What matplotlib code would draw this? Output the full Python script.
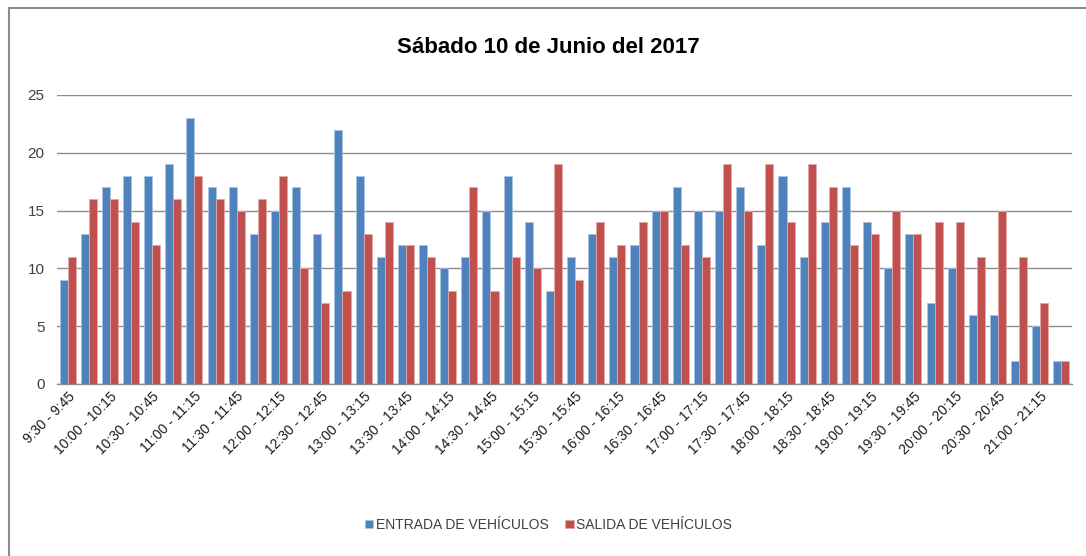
import matplotlib
matplotlib.use("Agg")
from matplotlib import pyplot as plt
from matplotlib.patches import Rectangle
import numpy as np

plt.rcParams['font.family'] = ['Liberation Sans', 'DejaVu Sans']

# 15-minute intervals from 9:30 to 21:30
starts = ['9:30', '9:45', '10:00', '10:15', '10:30', '10:45', '11:00', '11:15',
          '11:30', '11:45', '12:00', '12:15', '12:30', '12:45', '13:00', '13:15',
          '13:30', '13:45', '14:00', '14:15', '14:30', '14:45', '15:00', '15:15',
          '15:30', '15:45', '16:00', '16:15', '16:30', '16:45', '17:00', '17:15',
          '17:30', '17:45', '18:00', '18:15', '18:30', '18:45', '19:00', '19:15',
          '19:30', '19:45', '20:00', '20:15', '20:30', '20:45', '21:00', '21:15',
          '21:30']
categories = [f'{a} - {b}' for a, b in zip(starts[:-1], starts[1:])]

entrada = [9, 13, 17, 18, 18, 19, 23, 17, 17, 13, 15, 17, 13, 22, 18, 11,
           12, 12, 10, 11, 15, 18, 14, 8, 11, 13, 11, 12, 15, 17, 15, 15,
           17, 12, 18, 11, 14, 17, 14, 10, 13, 7, 10, 6, 6, 2, 5, 2]
salida = [11, 16, 16, 14, 12, 16, 18, 16, 15, 16, 18, 10, 7, 8, 13, 14,
          12, 11, 8, 17, 8, 11, 10, 19, 9, 14, 12, 14, 15, 12, 11, 19,
          15, 19, 14, 19, 17, 12, 13, 15, 13, 14, 14, 11, 15, 11, 7, 2]

blue = '#4F81BD'
red = '#C0504D'
text_col = '#404040'

fig = plt.figure(figsize=(10.86, 5.56), dpi=100)
ax = fig.add_axes([0.0525, 0.3094, 0.9346, 0.5198])

x = np.arange(len(categories))
w = 0.38
ax.bar(x - w / 2, entrada, w, color=blue, edgecolor='#A9C3E3', linewidth=0.6,
       label='ENTRADA DE VEHÍCULOS', zorder=3)
ax.bar(x + w / 2, salida, w, color=red, edgecolor='#E2A9A7', linewidth=0.6,
       label='SALIDA DE VEHÍCULOS', zorder=3)

ax.set_xlim(-0.5, len(categories) - 0.5)
ax.set_ylim(0, 25)
ax.set_yticks(range(0, 26, 5))
ax.yaxis.grid(True, color='#8C8C8C', linewidth=1.0, zorder=0)
ax.set_axisbelow(True)
for side in ['top', 'right', 'left']:
    ax.spines[side].set_visible(False)
ax.spines['bottom'].set_color('#8C8C8C')
ax.spines['bottom'].set_linewidth(1.0)
ax.tick_params(axis='y', length=0, labelsize=11, labelcolor=text_col, pad=9)
ax.tick_params(axis='x', length=0, labelsize=10, labelcolor='#1a1a1a', pad=4)

ax.set_xticks(x[::2])
ax.set_xticklabels(categories[::2], rotation=45, ha='right',
                   rotation_mode='anchor')

fig.text(0.505, 0.915, 'Sábado 10 de Junio del 2017', ha='center',
         va='center', fontsize=16, fontweight='bold', color='#000000')

fig.legend(loc='center', bbox_to_anchor=(0.505, 0.056), ncol=2,
           frameon=False, fontsize=10, handlelength=0.6, handleheight=0.6,
           handletextpad=0.2, columnspacing=1.2, labelcolor=text_col)

# outer chart frame (left and top edges visible in the reference)
fig.patches.append(Rectangle((8.5 / 1086, -0.05), 1.2, 1.05 - 8 / 556,
                             transform=fig.transFigure, fill=False,
                             edgecolor='#8C8C8C', linewidth=1.5))

fig.savefig('out.png', dpi=100)
